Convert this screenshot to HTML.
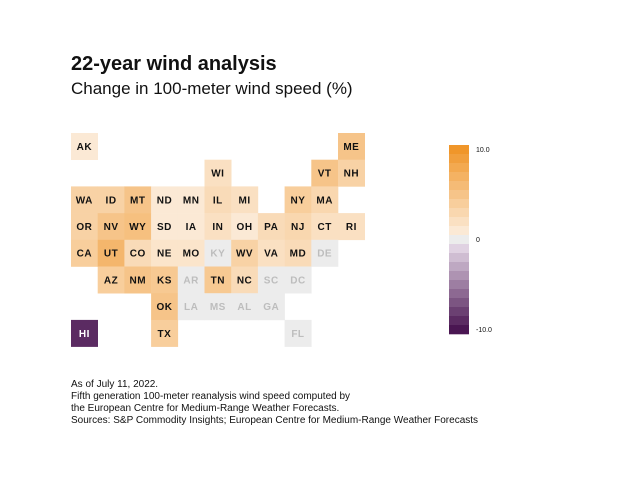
<!DOCTYPE html>
<html><head><meta charset="utf-8">
<style>
body{margin:0;width:640px;height:480px;background:#fff;font-family:"Liberation Sans",sans-serif;position:relative;overflow:hidden}
.t{position:absolute;left:71px;color:#111}
</style></head><body>
<div class="t" style="top:53px;font-size:20px;font-weight:bold">22-year wind analysis</div>
<div class="t" style="top:79px;font-size:17px">Change in 100-meter wind speed (%)</div>
<svg id="map" width="640" height="480" style="position:absolute;left:0;top:0"></svg>
<div class="t" style="top:379px;font-size:10px;line-height:12px">As of July 11, 2022.<br>Fifth generation 100-meter reanalysis wind speed computed by<br>the European Centre for Medium-Range Weather Forecasts.<br>Sources: S&amp;P Commodity Insights; European Centre for Medium-Range Weather Forecasts</div>
<script>
const states=["AK","ME","WI","VT","NH","WA","ID","MT","ND","MN","IL","MI","NY","MA","OR","NV","WY","SD","IA","IN","OH","PA","NJ","CT","RI","CA","UT","CO","NE","MO","KY","WV","VA","MD","DE","AZ","NM","KS","AR","TN","NC","SC","DC","OK","LA","MS","AL","GA","HI","TX","FL"];
const cols=[0,10,5,9,10,0,1,2,3,4,5,6,8,9,0,1,2,3,4,5,6,7,8,9,10,0,1,2,3,4,5,6,7,8,9,1,2,3,4,5,6,7,8,3,4,5,6,7,0,3,8];
const rows=[0,0,1,1,1,2,2,2,2,2,2,2,2,2,3,3,3,3,3,3,3,3,3,3,3,4,4,4,4,4,4,4,4,4,4,5,5,5,5,5,5,5,5,6,6,6,6,6,7,7,7];
const values=[1,5,2,5,3.5,3.5,3.5,5,1,1,2.5,2,4,3,3.5,5,5.5,1,1,2,1,2.5,3,2,2,4,6.5,2.5,1.5,1.5,0,3.5,2,2.5,0,4,5,4.5,0,4.5,2.5,0,0,5,0,0,0,0,-9,4,0];
const legendTicks=[10,0,-10];
const legendLabels=["10.0","0","-10.0"];
const svg=document.getElementById('map');
const NS='http://www.w3.org/2000/svg';
const X0=71,Y0=133,S=26.7;
function lerp(a,b,t){return a.map((v,i)=>Math.round(v+(b[i]-v)*t));}
function color(v){
  if(Math.abs(v)<0.5) return '#ececec';
  if(v>0){const c=lerp([252,238,222],[240,150,42],Math.min(1,(v-0.5)/9.5));return `rgb(${c})`;}
  const c=lerp([232,220,234],[74,22,82],Math.min(1,(-v-0.5)/9.5));return `rgb(${c})`;
}
function mk(tag,attrs){const e=document.createElementNS(NS,tag);for(const k in attrs)e.setAttribute(k,attrs[k]);svg.appendChild(e);return e;}
states.forEach((s,i)=>{
  const x=X0+cols[i]*S,y=Y0+rows[i]*S,v=values[i];
  const r=mk('rect',{x:x,y:y,width:S+0.3,height:S+0.3,fill:color(v)});
  
  
  const t=mk('text',{x:x+S/2,y:y+S/2+3.5,'text-anchor':'middle','font-size':'10','font-weight':'bold','letter-spacing':'0.5',fill:Math.abs(v)<0.5?'#bdbdbd':(v<-5?'#fff':'#111')});
  t.textContent=s;
  
  
});
// legend
const LX=449,LY=145,LH=189,N=21,BH=LH/N;
function ly(v){return LY+(10-v)*BH+BH/2;}
for(let k=0;k<N;k++){
  const v=10-k;
  const r=mk('rect',{x:LX,y:LY+k*BH,width:20,height:BH+0.3,fill:color(v)});
  
  
}
legendTicks.forEach((v,i)=>{
  const t=mk('text',{x:476,y:ly(v)+2.5,'font-size':'7',fill:'#111'});
  t.textContent=legendLabels[i];
  
  
});
</script>
</body></html>
